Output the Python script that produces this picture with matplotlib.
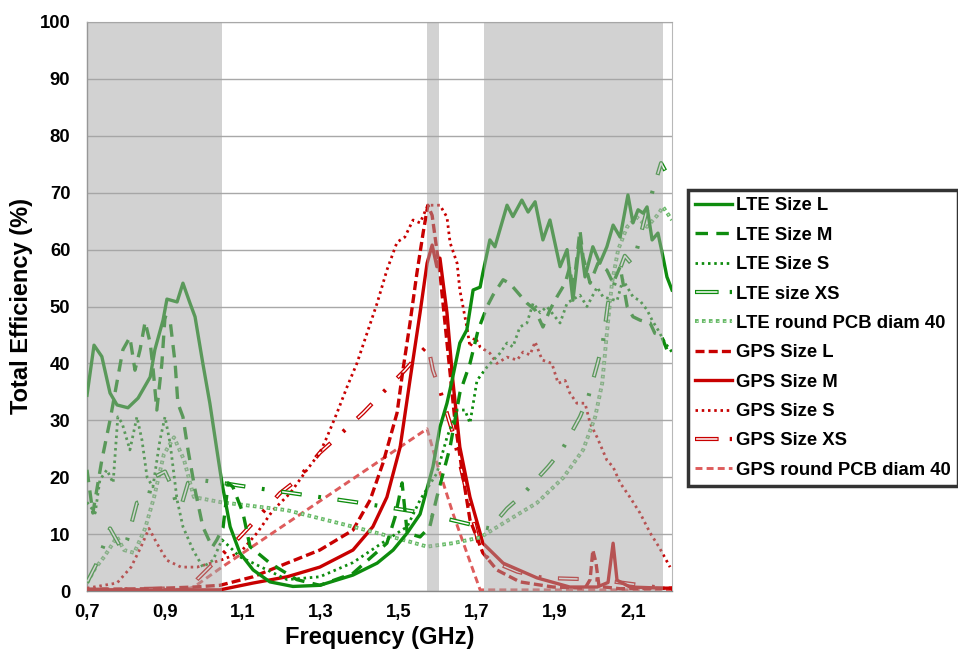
import matplotlib
matplotlib.use('Agg')
import matplotlib.pyplot as plt
from matplotlib.lines import Line2D
from matplotlib.legend_handler import HandlerTuple

plt.rcParams['font.family'] = ['Liberation Sans', 'DejaVu Sans']
plt.rcParams['font.weight'] = 'bold'
plt.rcParams['lines.scale_dashes'] = False

# ---------------- data (frequency GHz, total efficiency %) ----------------
LTE_L = [(0.700, 34.4), (0.718, 43.2), (0.738, 41.2), (0.759, 34.8), (0.777, 32.7), (0.805, 32.2),
         (0.831, 33.9), (0.862, 37.6), (0.874, 42.4), (0.895, 47.6), (0.905, 51.3), (0.931, 50.8),
         (0.946, 54.1), (0.964, 50.6), (0.977, 48.2), (0.997, 40.0), (1.015, 33.0), (1.033, 24.8),
         (1.046, 19.0), (1.067, 11.3), (1.092, 6.7), (1.126, 3.7), (1.169, 1.6), (1.228, 0.8),
         (1.297, 1.0), (1.382, 2.8), (1.444, 4.9), (1.485, 7.2), (1.521, 10.2), (1.554, 13.5),
         (1.587, 21.8), (1.605, 28.8), (1.623, 33.0), (1.636, 37.0), (1.656, 43.6), (1.674, 45.9),
         (1.690, 52.9), (1.708, 53.4), (1.715, 55.9), (1.733, 61.7), (1.746, 60.5), (1.777, 67.8),
         (1.792, 65.8), (1.815, 68.7), (1.831, 66.6), (1.849, 68.4), (1.869, 61.7), (1.887, 65.2),
         (1.913, 57.0), (1.931, 60.0), (1.946, 51.1), (1.964, 62.0), (1.977, 55.2), (1.997, 60.5),
         (2.015, 57.6), (2.033, 60.5), (2.049, 64.3), (2.067, 62.2), (2.087, 69.6), (2.100, 64.7),
         (2.113, 67.0), (2.126, 66.4), (2.136, 67.5), (2.149, 61.7), (2.164, 62.9), (2.177, 58.7),
         (2.187, 55.2), (2.200, 52.9)]

LTE_M = [(0.700, 21.3), (0.715, 13.7), (0.738, 23.0), (0.759, 30.0), (0.792, 42.4), (0.810, 44.6),
         (0.823, 38.8), (0.836, 42.4), (0.849, 47.3), (0.862, 43.6), (0.869, 39.4), (0.879, 31.8),
         (0.892, 40.0), (0.900, 48.2), (0.913, 47.6), (0.926, 40.0), (0.933, 33.0), (0.946, 30.6),
         (0.959, 24.8), (0.977, 17.8), (0.997, 11.3), (1.021, 7.7), (1.033, 9.0), (1.049, 11.2),
         (1.062, 19.0), (1.074, 18.3), (1.100, 13.7), (1.118, 7.8), (1.169, 4.9), (1.238, 2.0),
         (1.297, 1.0), (1.382, 3.1), (1.469, 8.4), (1.490, 13.0), (1.508, 19.0), (1.521, 10.2),
         (1.554, 9.5), (1.579, 11.3), (1.597, 16.5), (1.631, 25.3), (1.656, 34.8), (1.682, 40.0),
         (1.703, 45.9), (1.726, 50.0), (1.741, 52.0), (1.767, 54.7), (1.785, 54.0), (1.810, 52.0),
         (1.828, 50.6), (1.849, 49.4), (1.869, 46.4), (1.887, 49.4), (1.905, 51.7), (1.926, 54.1),
         (1.938, 57.0), (1.946, 52.4), (1.964, 63.4), (1.972, 58.7), (1.990, 54.1), (2.010, 57.6),
         (2.033, 56.4), (2.049, 54.1), (2.067, 57.0), (2.085, 50.0), (2.100, 48.2), (2.118, 47.6),
         (2.144, 47.1), (2.156, 45.3), (2.172, 45.0), (2.187, 42.4), (2.200, 43.0)]

LTE_S = [(0.700, 15.6), (0.721, 13.7), (0.733, 19.5), (0.751, 21.3), (0.767, 19.0), (0.779, 30.6),
         (0.790, 29.5), (0.810, 24.8), (0.828, 30.6), (0.841, 26.5), (0.854, 20.0), (0.869, 18.3),
         (0.887, 26.5), (0.900, 30.6), (0.913, 26.0), (0.931, 16.0), (0.946, 11.3), (0.972, 7.2),
         (0.997, 4.2), (1.023, 5.4), (1.046, 9.0), (1.062, 8.0), (1.092, 6.0), (1.126, 4.9),
         (1.213, 2.0), (1.297, 2.5), (1.382, 5.0), (1.469, 9.0), (1.521, 11.3), (1.554, 16.0),
         (1.597, 20.7), (1.623, 27.0), (1.649, 31.8), (1.669, 31.8), (1.682, 29.5), (1.700, 37.0),
         (1.726, 39.4), (1.759, 41.8), (1.777, 43.6), (1.792, 42.9), (1.810, 46.4), (1.828, 47.1),
         (1.844, 50.6), (1.862, 48.9), (1.879, 50.0), (1.913, 47.1), (1.931, 50.6), (1.964, 52.0),
         (1.982, 50.0), (2.008, 53.4), (2.023, 51.7), (2.059, 51.0), (2.074, 54.7), (2.100, 51.7),
         (2.118, 51.0), (2.136, 49.4), (2.149, 47.6), (2.164, 45.9), (2.182, 43.6), (2.200, 42.0)]

LTE_XS = [(0.700, 1.5), (0.726, 5.0), (0.759, 11.0), (0.790, 7.2), (0.803, 9.0), (0.828, 15.5),
          (0.856, 16.0), (0.869, 19.9), (0.900, 21.0), (0.918, 18.3), (0.931, 14.6), (0.944, 15.5),
          (0.959, 19.0), (0.990, 19.5), (1.046, 19.0), (1.092, 18.5), (1.246, 17.0), (1.400, 15.5),
          (1.554, 13.8), (1.695, 11.5), (1.733, 11.0), (1.777, 14.5), (1.818, 17.0), (1.882, 21.8),
          (1.918, 24.8), (1.964, 30.6), (1.985, 34.0), (2.010, 40.2), (2.023, 43.8), (2.036, 50.6),
          (2.054, 54.3), (2.079, 58.9), (2.095, 57.6), (2.110, 60.0), (2.131, 65.7), (2.149, 70.0),
          (2.172, 75.2), (2.200, 71.7)]

LTE_RPCB = [(0.700, 1.4), (0.721, 4.0), (0.744, 6.0), (0.777, 9.5), (0.795, 7.2), (0.821, 6.7),
            (0.849, 11.0), (0.872, 16.5), (0.897, 24.0), (0.923, 27.0), (0.949, 23.0), (0.974, 16.5),
            (1.044, 15.6), (1.213, 14.2), (1.382, 11.3), (1.510, 9.0), (1.572, 7.8), (1.638, 8.4),
            (1.708, 9.4), (1.767, 11.9), (1.854, 15.5), (1.921, 19.9), (1.972, 24.8), (2.003, 30.6),
            (2.021, 36.5), (2.033, 45.3), (2.046, 54.1), (2.062, 60.0), (2.085, 64.0), (2.110, 65.7),
            (2.136, 64.0), (2.162, 66.0), (2.177, 67.5), (2.200, 65.2)]

GPS_L = [(0.700, 0.3), (0.862, 0.4), (0.974, 0.7), (1.041, 1.0), (1.126, 2.5), (1.213, 4.9),
         (1.297, 7.2), (1.382, 10.7), (1.426, 16.0), (1.459, 22.5), (1.495, 31.3), (1.510, 38.8),
         (1.528, 47.0), (1.546, 55.9), (1.562, 63.0), (1.574, 67.8), (1.585, 66.0), (1.605, 55.9),
         (1.618, 47.0), (1.631, 38.3), (1.644, 29.5), (1.662, 21.0), (1.682, 12.5), (1.715, 6.7),
         (1.751, 3.7), (1.810, 1.6), (1.895, 0.7), (1.977, 0.5), (1.990, 2.0), (1.997, 7.2),
         (2.005, 5.0), (2.013, 0.8), (2.067, 0.4), (2.200, 0.5)]

GPS_M = [(0.700, 0.2), (1.041, 0.2), (1.126, 1.4), (1.213, 2.5), (1.297, 4.2), (1.382, 7.2),
         (1.433, 11.3), (1.469, 16.5), (1.503, 25.3), (1.528, 37.0), (1.554, 48.9), (1.572, 57.6),
         (1.585, 60.8), (1.597, 57.0), (1.605, 58.5), (1.623, 48.9), (1.638, 37.0), (1.656, 25.3),
         (1.682, 16.5), (1.708, 10.2), (1.715, 8.4), (1.767, 4.9), (1.854, 2.3), (1.938, 0.7),
         (2.008, 0.7), (2.036, 1.5), (2.049, 8.4), (2.059, 1.9), (2.092, 0.7), (2.177, 0.5),
         (2.200, 0.5)]

GPS_S = [(0.700, 0.5), (0.777, 1.4), (0.813, 4.2), (0.838, 7.7), (0.859, 11.0), (0.879, 8.4),
         (0.905, 5.4), (0.941, 4.2), (0.982, 4.2), (1.018, 4.9), (1.046, 5.5), (1.092, 6.7),
         (1.136, 10.2), (1.177, 14.2), (1.221, 17.2), (1.264, 21.3), (1.297, 24.3), (1.315, 27.0),
         (1.341, 31.3), (1.367, 35.9), (1.392, 40.0), (1.418, 45.3), (1.444, 50.6), (1.469, 56.4),
         (1.495, 61.3), (1.515, 62.2), (1.536, 65.2), (1.554, 64.7), (1.574, 67.8), (1.605, 67.8),
         (1.623, 65.7), (1.631, 61.2), (1.649, 57.6), (1.656, 52.9), (1.674, 46.4), (1.682, 42.9),
         (1.695, 44.6), (1.708, 42.9), (1.733, 41.8), (1.751, 40.0), (1.777, 41.1), (1.803, 40.6),
         (1.818, 42.0), (1.836, 41.5), (1.849, 43.8), (1.867, 40.6), (1.892, 40.0), (1.908, 36.5),
         (1.926, 37.0), (1.938, 34.8), (1.956, 33.0), (1.977, 33.0), (1.990, 29.5), (2.008, 27.0),
         (2.033, 23.0), (2.049, 21.8), (2.067, 19.0), (2.092, 16.5), (2.118, 13.7), (2.144, 10.2),
         (2.167, 7.7), (2.195, 4.2)]

GPS_XS = [(0.700, 0.2), (0.964, 0.5), (0.982, 2.0), (1.026, 5.0), (1.092, 9.5), (1.126, 12.0),
          (1.195, 17.2), (1.238, 19.5), (1.297, 24.3), (1.341, 27.0), (1.408, 31.3), (1.446, 34.0),
          (1.515, 38.8), (1.554, 41.8), (1.574, 43.2), (1.587, 38.8), (1.605, 35.3), (1.638, 27.8),
          (1.708, 7.2), (1.733, 5.4), (1.803, 3.4), (1.869, 2.3), (2.015, 2.0), (2.067, 1.5),
          (2.177, 0.5), (2.200, 0.4)]

GPS_RPCB = [(0.700, 0.2), (0.951, 0.3), (0.974, 0.7), (1.046, 4.2), (1.572, 28.5), (1.597, 22.5),
            (1.638, 13.7), (1.674, 6.7), (1.708, 0.2), (2.200, 0.2)]

LABELS = ['LTE Size L', 'LTE Size M', 'LTE Size S', 'LTE size XS', 'LTE round PCB diam 40',
          'GPS Size L', 'GPS Size M', 'GPS Size S', 'GPS Size XS', 'GPS round PCB diam 40']

X_TICKS = [0.7, 0.9, 1.1, 1.3, 1.5, 1.7, 1.9, 2.1]
X_TICK_LABELS = ['0,7', '0,9', '1,1', '1,3', '1,5', '1,7', '1,9', '2,1']
Y_TICKS = list(range(0, 101, 10))
BANDS = [(0.700, 1.047), (1.572, 1.602), (1.718, 2.176)]

# ---------------- styling ----------------
GREEN = '#0e8c0e'
LGREEN = '#66b966'
RED = '#c80000'
LRED = '#de5c5c'

fig = plt.figure(figsize=(9.58, 6.55), dpi=100)
ax = fig.add_axes([87 / 958, 1 - 591 / 655, 585 / 958, 569 / 655])


def xy(pairs):
    return [p[0] for p in pairs], [p[1] for p in pairs]


def simple(data, color, lw, ls):
    x, y = xy(data)
    ax.plot(x, y, color=color, lw=lw, linestyle=ls, solid_joinstyle='round',
            dash_capstyle='butt', zorder=3)


def double(data, color, lw_out, ls_out, lw_in, ls_in, in_color='white'):
    x, y = xy(data)
    ax.plot(x, y, color=color, lw=lw_out, linestyle=ls_out, dash_capstyle='butt', zorder=3)
    ax.plot(x, y, color=in_color, lw=lw_in, linestyle=ls_in, dash_capstyle='butt', zorder=3)


XS_OUT = (0, (15, 12, 2, 12))
XS_IN = (40.2, (13.4, 27.6))
SQ_OUT = (0, (2.6, 2.4))
SQ_IN = (4.2, (1.0, 4.0))

simple(GPS_RPCB, LRED, 2.1, (0, (5, 3)))
double(GPS_XS, RED, 3.0, XS_OUT, 1.1, XS_IN)
simple(GPS_S, RED, 2.0, (0, (1.8, 2.7)))
simple(GPS_L, RED, 2.4, (0, (6.5, 3)))
simple(GPS_M, RED, 2.4, '-')
double(LTE_RPCB, LGREEN, 2.8, SQ_OUT, 0.9, SQ_IN, '#d4ecd4')
double(LTE_XS, GREEN, 3.0, XS_OUT, 1.1, XS_IN)
simple(LTE_S, GREEN, 2.0, (0, (1.8, 2.7)))
simple(LTE_M, GREEN, 2.4, (0, (9, 6)))
simple(LTE_L, GREEN, 2.4, '-')

for a, b in BANDS:
    ax.axvspan(a, b, color='#a6a6a6', alpha=0.5, lw=0, zorder=4)

ax.set_xlim(0.7, 2.2)
ax.set_ylim(0, 100)
ax.set_xticks(X_TICKS)
ax.set_xticklabels(X_TICK_LABELS)
ax.set_yticks(Y_TICKS)
ax.tick_params(axis='both', length=0, labelsize=13.3)
ax.tick_params(axis='y', pad=12)
ax.tick_params(axis='x', pad=9)
ax.yaxis.grid(True, color='#a8a8a8', lw=1.0, zorder=1)
ax.set_axisbelow(True)
for s in ['left', 'bottom']:
    ax.spines[s].set_color('#888888')
    ax.spines[s].set_linewidth(1.0)
ax.spines['right'].set_color('#b8b8b8')
ax.spines['top'].set_color('#a8a8a8')

ax.set_xlabel('Frequency (GHz)', fontsize=17, fontweight='bold', labelpad=4)
ax.set_ylabel('Total Efficiency (%)', fontsize=17, fontweight='bold', labelpad=5)

# ---------------- legend ----------------
LXS_OUT = (0, (17, 8, 2, 8))
LXS_IN = (34.2, (15.4, 19.6))


def proxy(color, lw, ls):
    return Line2D([], [], color=color, lw=lw, linestyle=ls, dash_capstyle='butt')


handles = [
    proxy(GREEN, 2.4, '-'),
    proxy(GREEN, 2.4, (0, (9, 6))),
    proxy(GREEN, 2.0, (0, (1.8, 2.7))),
    (proxy(GREEN, 3.0, LXS_OUT), proxy('white', 1.1, LXS_IN)),
    (proxy(LGREEN, 2.8, SQ_OUT), proxy('#d4ecd4', 0.9, SQ_IN)),
    proxy(RED, 2.4, (0, (6.5, 3))),
    proxy(RED, 2.4, '-'),
    proxy(RED, 2.0, (0, (1.8, 2.7))),
    (proxy(RED, 3.0, LXS_OUT), proxy('white', 1.1, LXS_IN)),
    proxy(LRED, 2.1, (0, (5, 3))),
]
leg = fig.legend(handles, LABELS, loc='upper left', bbox_to_anchor=(688 / 958, 1 - 190 / 655),
                 handler_map={tuple: HandlerTuple(ndivide=1)},
                 prop={'family': ['Liberation Sans'], 'weight': 'bold', 'size': 13.3},
                 frameon=True, fancybox=False, edgecolor='black', borderpad=0.4,
                 handlelength=2.0, handletextpad=0.2, labelspacing=0.67, borderaxespad=0)
leg.get_frame().set_linewidth(2.5)

fig.savefig('out.png', dpi=100)
